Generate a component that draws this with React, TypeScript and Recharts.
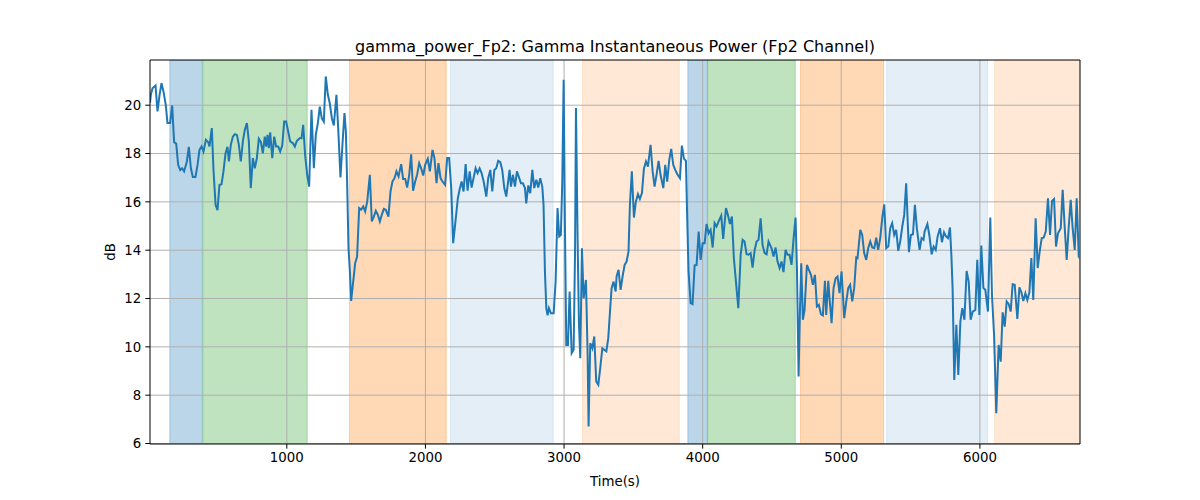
import { Line, LineChart, ReferenceArea, ReferenceLine, XAxis, YAxis } from "recharts";

const title = "gamma_power_Fp2: Gamma Instantaneous Power (Fp2 Channel)";
const xTicks = [1000, 2000, 3000, 4000, 5000, 6000];
const yTicks = [6, 8, 10, 12, 14, 16, 18, 20];
const xDomain: [number, number] = [13, 6722];
const yDomain: [number, number] = [5.98, 21.87];

// shaded phases: [start s, end s, kind]
const phaseSpans: [number, number, string][] = [
  [156, 390, "blue"],
  [394, 1147, "green"],
  [1452, 2150, "orange"],
  [2181, 2922, "paleBlue"],
  [3133, 3831, "paleOrange"],
  [3893, 4033, "blue"],
  [4036, 4668, "green"],
  [4706, 5305, "orange"],
  [5327, 6055, "paleBlue"],
  [6106, 6722, "paleOrange"],
];

// [time s, dB]
const gammaSamples: [number, number][] = [
  [13, 20.1], [19, 20.43], [31, 20.7], [53, 20.81], [67, 19.74], [82, 20.43], [96, 20.91], [110, 20.57],
  [127, 20.0], [139, 19.26], [158, 19.26], [173, 19.99], [187, 18.47], [202, 18.41], [216, 17.53],
  [231, 17.32], [245, 17.39], [259, 17.26], [279, 17.67], [293, 18.28], [308, 17.39], [322, 17.03],
  [341, 17.03], [356, 17.53], [370, 18.15], [385, 18.29], [399, 18.08], [416, 18.57], [433, 18.47],
  [442, 18.29], [459, 19.05], [471, 17.32], [486, 15.88], [500, 15.66], [514, 16.7], [529, 16.73],
  [543, 17.26], [558, 18.01], [572, 18.28], [582, 17.67], [596, 18.36], [611, 18.7], [625, 18.8],
  [640, 18.77], [654, 18.36], [668, 17.67], [683, 18.5], [697, 18.98], [712, 19.26], [726, 18.5],
  [740, 16.57], [755, 17.81], [769, 17.39], [784, 17.81], [798, 18.61], [813, 18.47], [827, 18.01],
  [841, 18.7], [851, 18.29], [861, 18.77], [870, 18.22], [880, 18.88], [895, 17.81], [909, 18.7],
  [923, 18.29], [938, 18.29], [952, 18.08], [967, 18.33], [981, 19.32], [995, 19.32], [1010, 18.91],
  [1024, 18.5], [1044, 18.43], [1058, 18.29], [1072, 18.52], [1092, 18.63], [1106, 18.63], [1118, 19.19],
  [1132, 17.94], [1147, 17.12], [1161, 16.63], [1178, 19.81], [1195, 17.39], [1209, 18.77], [1224, 19.26],
  [1238, 19.94], [1252, 19.46], [1267, 19.32], [1281, 21.19], [1296, 20.43], [1310, 20.08], [1325, 19.46],
  [1339, 19.16], [1358, 20.43], [1373, 18.77], [1387, 17.01], [1402, 18.43], [1416, 19.67], [1426, 18.91],
  [1435, 16.84], [1445, 14.08], [1455, 13.12], [1464, 11.9], [1479, 12.7], [1493, 13.46], [1507, 13.74],
  [1522, 15.74], [1536, 15.67], [1551, 15.81], [1565, 15.6], [1580, 16.01], [1599, 17.12], [1613, 15.19],
  [1628, 15.39], [1642, 15.63], [1657, 15.46], [1671, 15.19], [1685, 15.46], [1700, 15.71], [1714, 15.67],
  [1733, 15.39], [1748, 16.43], [1762, 16.84], [1777, 16.98], [1791, 17.26], [1806, 17.05], [1825, 17.56],
  [1839, 16.95], [1854, 16.95], [1868, 16.59], [1883, 17.12], [1897, 17.97], [1911, 16.46], [1926, 16.84],
  [1940, 17.12], [1955, 17.6], [1969, 17.39], [1984, 17.09], [1998, 17.53], [2017, 17.78], [2032, 17.26],
  [2051, 18.15], [2065, 17.81], [2080, 16.77], [2094, 17.6], [2109, 16.98], [2123, 16.84], [2142, 16.7],
  [2157, 17.81], [2171, 17.81], [2186, 16.57], [2200, 14.29], [2214, 15.05], [2234, 16.15],
  [2246, 16.5], [2261, 16.84], [2275, 16.43], [2290, 17.56], [2304, 16.46], [2319, 17.26], [2333, 16.59],
  [2347, 16.98], [2362, 17.39], [2376, 17.19], [2391, 17.39], [2405, 17.19], [2420, 16.84], [2439, 16.22],
  [2453, 16.98], [2468, 17.32], [2482, 16.43], [2497, 17.32], [2511, 17.39], [2525, 17.7], [2540, 17.64],
  [2554, 17.32], [2569, 16.57], [2583, 16.22], [2598, 16.91], [2607, 17.32], [2617, 16.63], [2631, 17.12],
  [2646, 16.63], [2660, 17.26], [2675, 17.01], [2689, 16.77], [2703, 16.77], [2718, 16.57], [2727, 15.94],
  [2742, 16.68], [2756, 16.36], [2771, 17.32], [2785, 16.57], [2800, 16.91], [2814, 16.59], [2828, 16.98],
  [2843, 16.63], [2852, 15.88], [2862, 13.12], [2872, 11.6], [2881, 11.3], [2891, 11.6], [2905, 11.39],
  [2925, 11.39], [2939, 12.7], [2953, 15.74], [2965, 14.57], [2977, 14.63], [2987, 16.84], [2997, 21.05],
  [3006, 15.19], [3016, 10.08], [3028, 10.08], [3040, 12.29], [3055, 9.74], [3069, 9.88], [3079, 13.81],
  [3086, 19.88], [3098, 14.36], [3107, 11.05], [3117, 9.53], [3129, 14.08], [3141, 12.01], [3158, 12.77],
  [3170, 9.67], [3177, 6.7], [3189, 10.15], [3204, 9.94], [3218, 10.43], [3232, 8.57], [3247, 8.43],
  [3261, 9.12], [3276, 9.94], [3290, 9.88], [3305, 9.81], [3319, 10.36], [3333, 11.6], [3343, 12.43],
  [3357, 12.7], [3372, 12.29],
  [3379, 12.91], [3393, 13.19], [3408, 12.36], [3422, 12.91], [3437, 13.39], [3451, 13.53], [3465, 13.94],
  [3475, 15.88], [3489, 17.26], [3504, 15.35], [3518, 16.01], [3533, 16.32], [3547, 16.12], [3562, 16.36],
  [3576, 17.37], [3591, 17.67], [3605, 17.46], [3624, 18.36], [3639, 17.26], [3653, 16.63], [3667, 17.12],
  [3682, 17.7], [3696, 17.12], [3716, 16.57], [3730, 17.53], [3744, 16.84], [3759, 17.74], [3773, 18.19],
  [3788, 17.53], [3802, 17.32], [3817, 17.14], [3836, 16.98], [3850, 18.33], [3865, 17.78], [3879, 17.7],
  [3889, 15.19], [3898, 13.12], [3913, 11.81], [3927, 11.77], [3942, 13.37], [3956, 13.39], [3971, 14.77],
  [3985, 13.6], [4000, 14.29], [4014, 14.29], [4028, 15.08], [4043, 14.7], [4057, 14.84], [4072, 14.11],
  [4086, 15.12], [4100, 14.98], [4115, 15.19], [4134, 15.43], [4148, 14.47], [4168, 15.74], [4182, 15.46],
  [4197, 15.08], [4211, 15.39], [4225, 13.67], [4240, 12.7], [4257, 11.6], [4274, 13.81], [4288, 14.43],
  [4302, 14.36], [4317, 13.83], [4331, 13.81], [4346, 13.88], [4360, 13.28], [4375, 14.01], [4389, 14.36],
  [4403, 14.43], [4418, 15.32], [4432, 14.22], [4447, 13.88], [4461, 13.83], [4475, 14.36],
  [4497, 14.08], [4511, 13.74], [4526, 14.11], [4540, 13.53], [4555, 13.26], [4569, 13.53], [4583, 13.09],
  [4598, 14.01], [4612, 13.81], [4627, 13.81], [4641, 13.39], [4656, 14.5], [4670, 15.35], [4680, 13.26],
  [4692, 8.77], [4701, 11.32], [4711, 13.46], [4723, 11.12], [4735, 11.53], [4752, 13.39], [4766, 13.19],
  [4781, 12.98], [4795, 12.57], [4810, 12.98], [4824, 11.67], [4838, 11.74], [4853, 11.35], [4867, 11.3],
  [4882, 12.73], [4891, 11.32], [4906, 12.73], [4915, 12.01], [4930, 10.98], [4944, 12.43], [4959, 12.84],
  [4973, 12.91], [4987, 12.22], [5002, 13.12], [5021, 11.19], [5036, 11.88], [5050, 12.43], [5064, 12.57],
  [5079, 11.88], [5093, 12.43], [5108, 13.7], [5117, 13.67], [5137, 14.84], [5151, 14.63], [5165, 13.88],
  [5180, 13.6], [5194, 14.08], [5209, 14.36], [5223, 14.11], [5238, 14.08], [5252, 14.52], [5266, 14.01],
  [5281, 14.5], [5295, 15.32], [5310, 15.9], [5324, 14.08], [5339, 14.15], [5353, 14.91], [5367, 15.12],
  [5382, 14.63], [5396, 14.84], [5411, 13.97], [5425, 14.36], [5440, 14.98], [5454, 15.46], [5468, 16.77],
  [5488, 13.92], [5502, 14.63], [5517, 14.66], [5531, 15.88], [5545, 14.91], [5565, 14.01], [5579, 14.5],
  [5593, 14.43],
  [5601, 14.77], [5621, 15.08], [5635, 14.63], [5652, 13.83], [5666, 14.15], [5681, 14.01], [5695, 14.57],
  [5712, 14.91], [5726, 14.33], [5741, 14.74], [5755, 14.57], [5770, 14.5], [5784, 14.94], [5794, 13.81],
  [5803, 12.43], [5815, 8.63], [5830, 10.91], [5844, 8.84], [5859, 11.05], [5873, 11.6], [5888, 11.12],
  [5904, 13.14], [5919, 12.7], [5933, 11.12], [5948, 11.46], [5967, 11.53], [5981, 13.6], [5996, 11.32],
  [6010, 14.19], [6025, 12.43], [6039, 12.36], [6058, 11.46], [6075, 15.35], [6087, 12.15], [6102, 10.5],
  [6118, 7.25], [6135, 10.08], [6150, 9.39], [6164, 11.43], [6179, 10.84], [6193, 11.88], [6208, 11.77],
  [6222, 11.46], [6236, 12.59], [6251, 12.57], [6270, 11.16], [6285, 12.46], [6299, 12.26], [6313, 11.9],
  [6328, 12.22], [6342, 11.94], [6357, 12.26], [6371, 13.67], [6385, 11.94], [6402, 15.32], [6417, 13.26],
  [6431, 13.94], [6446, 14.5], [6460, 14.52], [6475, 14.77], [6491, 16.15], [6506, 14.63], [6520, 16.04],
  [6535, 16.12], [6549, 14.15], [6563, 14.7], [6583, 14.91], [6597, 16.5], [6612, 14.91], [6626, 13.6],
  [6640, 14.91], [6655, 16.08], [6669, 14.91], [6684, 14.01], [6698, 16.15], [6713, 13.74], [6722, 13.65],
];

const spanStyle: Record<string, { color: string; opacity: number }> = {
  blue: { color: "#1f77b4", opacity: 0.3 },
  green: { color: "#2ca02c", opacity: 0.3 },
  orange: { color: "#ff7f0e", opacity: 0.3 },
  paleBlue: { color: "#1f77b4", opacity: 0.12 },
  paleOrange: { color: "#ff7f0e", opacity: 0.17 },
};

const data = gammaSamples.map(([t, db]) => ({ t, db }));

const FONT = "'DejaVu Sans', sans-serif";
const tickStyle = { fill: "#000", fontSize: 13.33, fontFamily: FONT };
const GRID = "#b0b0b0";

export default function App() {
  return (
    <div
      style={{
        position: "absolute",
        left: 0,
        top: 0,
        width: 1200,
        height: 500,
        background: "#fff",
      }}
    >
      <LineChart
        width={1200}
        height={500}
        data={data}
        margin={{ top: 60, right: 120, bottom: 26, left: 100 }}
      >
        <XAxis
          type="number"
          dataKey="t"
          domain={xDomain}
          allowDataOverflow
          ticks={xTicks}
          height={30}
          tick={tickStyle}
          tickSize={4.67}
          tickMargin={4}
          tickLine={{ stroke: "#000", strokeWidth: 1 }}
          axisLine={{ stroke: "#000", strokeWidth: 1 }}
        />
        <YAxis
          type="number"
          domain={yDomain}
          allowDataOverflow
          ticks={yTicks}
          width={50}
          tick={tickStyle}
          tickSize={4.67}
          tickMargin={4}
          tickLine={{ stroke: "#000", strokeWidth: 1 }}
          axisLine={{ stroke: "#000", strokeWidth: 1 }}
        />
        {phaseSpans.map(([from, to, kind], i) => (
          <ReferenceArea
            key={`span-${i}`}
            x1={from}
            x2={to}
            fill={spanStyle[kind].color}
            fillOpacity={spanStyle[kind].opacity}
            stroke={spanStyle[kind].color}
            strokeOpacity={spanStyle[kind].opacity}
            ifOverflow="hidden"
          />
        ))}
        {yTicks.map((v) => (
          <ReferenceLine key={`gy-${v}`} y={v} stroke={GRID} strokeWidth={1} />
        ))}
        {xTicks.map((v) => (
          <ReferenceLine key={`gx-${v}`} x={v} stroke={GRID} strokeWidth={1} />
        ))}
        <ReferenceLine x={xDomain[1]} stroke="#000" strokeWidth={1} />
        <ReferenceLine y={yDomain[1]} stroke="#000" strokeWidth={1} />
        <Line
          type="linear"
          dataKey="db"
          stroke="#1f77b4"
          strokeWidth={2}
          dot={false}
          activeDot={false}
          isAnimationActive={false}
        />
      </LineChart>
      <svg
        width={1200}
        height={500}
        style={{ position: "absolute", left: 0, top: 0, pointerEvents: "none" }}
      >
        <text x={615} y={52} textAnchor="middle" fontSize={16} fontFamily={FONT} fill="#000">
          {title}
        </text>
        <text x={615} y={486} textAnchor="middle" fontSize={13.33} fontFamily={FONT} fill="#000">
          Time(s)
        </text>
        <text
          x={115}
          y={252}
          textAnchor="middle"
          fontSize={13.33}
          fontFamily={FONT}
          fill="#000"
          transform="rotate(-90 115 252)"
        >
          dB
        </text>
      </svg>
    </div>
  );
}
